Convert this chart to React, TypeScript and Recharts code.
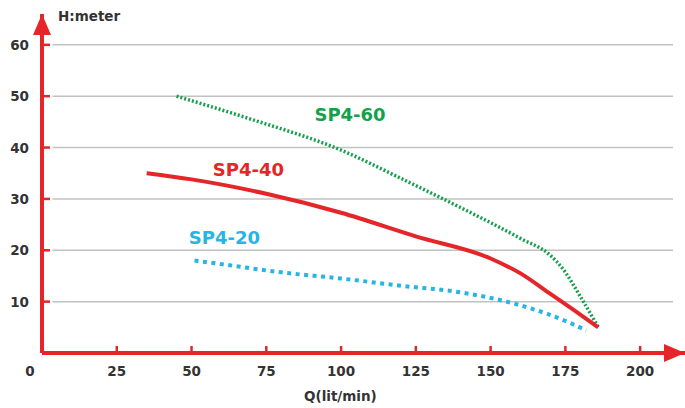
import React from 'react';
import { LineChart, Line, XAxis, YAxis, ReferenceLine, ReferenceDot } from 'recharts';

const qTicks = [0, 25, 50, 75, 100, 125, 150, 175, 200];
const hTicks = [10, 20, 30, 40, 50, 60];

const sp460Q = [45, 70, 100, 120, 140, 160, 170, 174, 180, 186];
const sp460H = [50, 45.5, 39.5, 34, 28.3, 22.3, 19, 16.5, 11, 5];

const sp440Q = [35, 50, 75, 100, 125, 150, 160, 170, 178, 186];
const sp440H = [35, 33.8, 31, 27.3, 22.7, 18.4, 15.5, 11.5, 8.3, 5];

const sp420Q = [51, 60, 80, 100, 120, 140, 158, 169, 176, 182];
const sp420H = [18, 17.3, 15.7, 14.5, 13.1, 11.8, 9.6, 7.6, 6, 4.4];

const toRows = (qs: number[], hs: number[]) => qs.map((q, i) => ({ q, h: hs[i] }));
const sp460 = toRows(sp460Q, sp460H);
const sp440 = toRows(sp440Q, sp440H);
const sp420 = toRows(sp420Q, sp420H);

const RED = '#e52528';
const GREEN = '#14a04c';
const BLUE = '#27b5e6';
const TXT = '#333333';
const FONT = '"DejaVu Sans", Verdana, sans-serif';

const XTick = (props: any) => {
  const { x, y, payload } = props;
  const dx = payload.value === 0 ? -12 : 0;
  return (
    <g>
      <line x1={x} x2={x} y1={y - 7} y2={y} stroke={RED} strokeWidth={2.5} />
      <text x={x + dx} y={y + 23} textAnchor="middle" fill={TXT} fontFamily={FONT} fontWeight="bold" fontSize={13.5}>
        {payload.value}
      </text>
    </g>
  );
};

const YTick = (props: any) => {
  const { x, y, payload } = props;
  return (
    <g>
      <line x1={x} x2={x + 8} y1={y} y2={y} stroke={RED} strokeWidth={2.5} />
      <text x={x - 13} y={y + 5} textAnchor="end" fill={TXT} fontFamily={FONT} fontWeight="bold" fontSize={13.5}>
        {payload.value}
      </text>
    </g>
  );
};

const ArrowRight = (props: any) => {
  const { cx, cy } = props;
  return <path d={`M${cx} ${cy} L${cx - 21} ${cy - 9} L${cx - 21} ${cy + 9} Z`} fill={RED} />;
};
const ArrowUp = (props: any) => {
  const { cx, cy } = props;
  return <path d={`M${cx} ${cy} L${cx - 9} ${cy + 21} L${cx + 9} ${cy + 21} Z`} fill={RED} />;
};
const makeLabel = (text: string, color: string) => (props: any) => {
  const { cx, cy } = props;
  return (
    <text x={cx} y={cy + 7} textAnchor="middle" fill={color} fontFamily={FONT} fontWeight="bold" fontSize={18}>
      {text}
    </text>
  );
};

export default function App() {
  return (
    <div style={{ position: 'absolute', left: 0, top: 0, width: 685, height: 408, background: '#fff' }}>
      <LineChart width={685} height={408} margin={{ top: 14, right: 0, left: 0, bottom: 0 }}>
        <XAxis
          type="number"
          dataKey="q"
          domain={[0, 215]}
          ticks={qTicks}
          height={55}
          tickSize={0}
          tickMargin={0}
          tick={<XTick />}
          axisLine={{ stroke: RED, strokeWidth: 4 }}
          allowDataOverflow
        />
        <YAxis
          type="number"
          dataKey="h"
          domain={[0, 66]}
          ticks={hTicks}
          width={42}
          tickSize={0}
          tickMargin={0}
          tick={<YTick />}
          axisLine={{ stroke: RED, strokeWidth: 4 }}
          allowDataOverflow
        />
        {hTicks.map((h) => (
          <ReferenceLine
            key={h}
            segment={[{ x: 3.5, y: h }, { x: 211, y: h }]}
            stroke="#c2c2c2"
            strokeWidth={1.5}
            ifOverflow="visible"
          />
        ))}
        <Line data={sp420} dataKey="h" type="monotone" stroke={BLUE} strokeWidth={4} strokeDasharray="4 4.5" dot={false} isAnimationActive={false} />
        <Line data={sp460} dataKey="h" type="monotone" stroke={GREEN} strokeWidth={3.5} strokeDasharray="2 2" dot={false} isAnimationActive={false} />
        <Line data={sp440} dataKey="h" type="monotone" stroke={RED} strokeWidth={4} dot={false} isAnimationActive={false} />
        <ReferenceDot x={215} y={0} r={0} shape={<ArrowRight />} ifOverflow="visible" />
        <ReferenceDot x={0} y={66} r={0} shape={<ArrowUp />} ifOverflow="visible" />
        <ReferenceDot x={103} y={46.5} r={0} shape={makeLabel('SP4-60', GREEN)} ifOverflow="visible" />
        <ReferenceDot x={69} y={35.8} r={0} shape={makeLabel('SP4-40', RED)} ifOverflow="visible" />
        <ReferenceDot x={61} y={22.5} r={0} shape={makeLabel('SP4-20', BLUE)} ifOverflow="visible" />
      </LineChart>
      <div style={{ position: 'absolute', left: 58, top: 8, fontFamily: FONT, fontWeight: 'bold', fontSize: 13.5, color: TXT }}>
        H:meter
      </div>
      <div style={{ position: 'absolute', left: 304, top: 388, fontFamily: FONT, fontWeight: 'bold', fontSize: 13.5, color: TXT }}>
        Q(lit/min)
      </div>
    </div>
  );
}
